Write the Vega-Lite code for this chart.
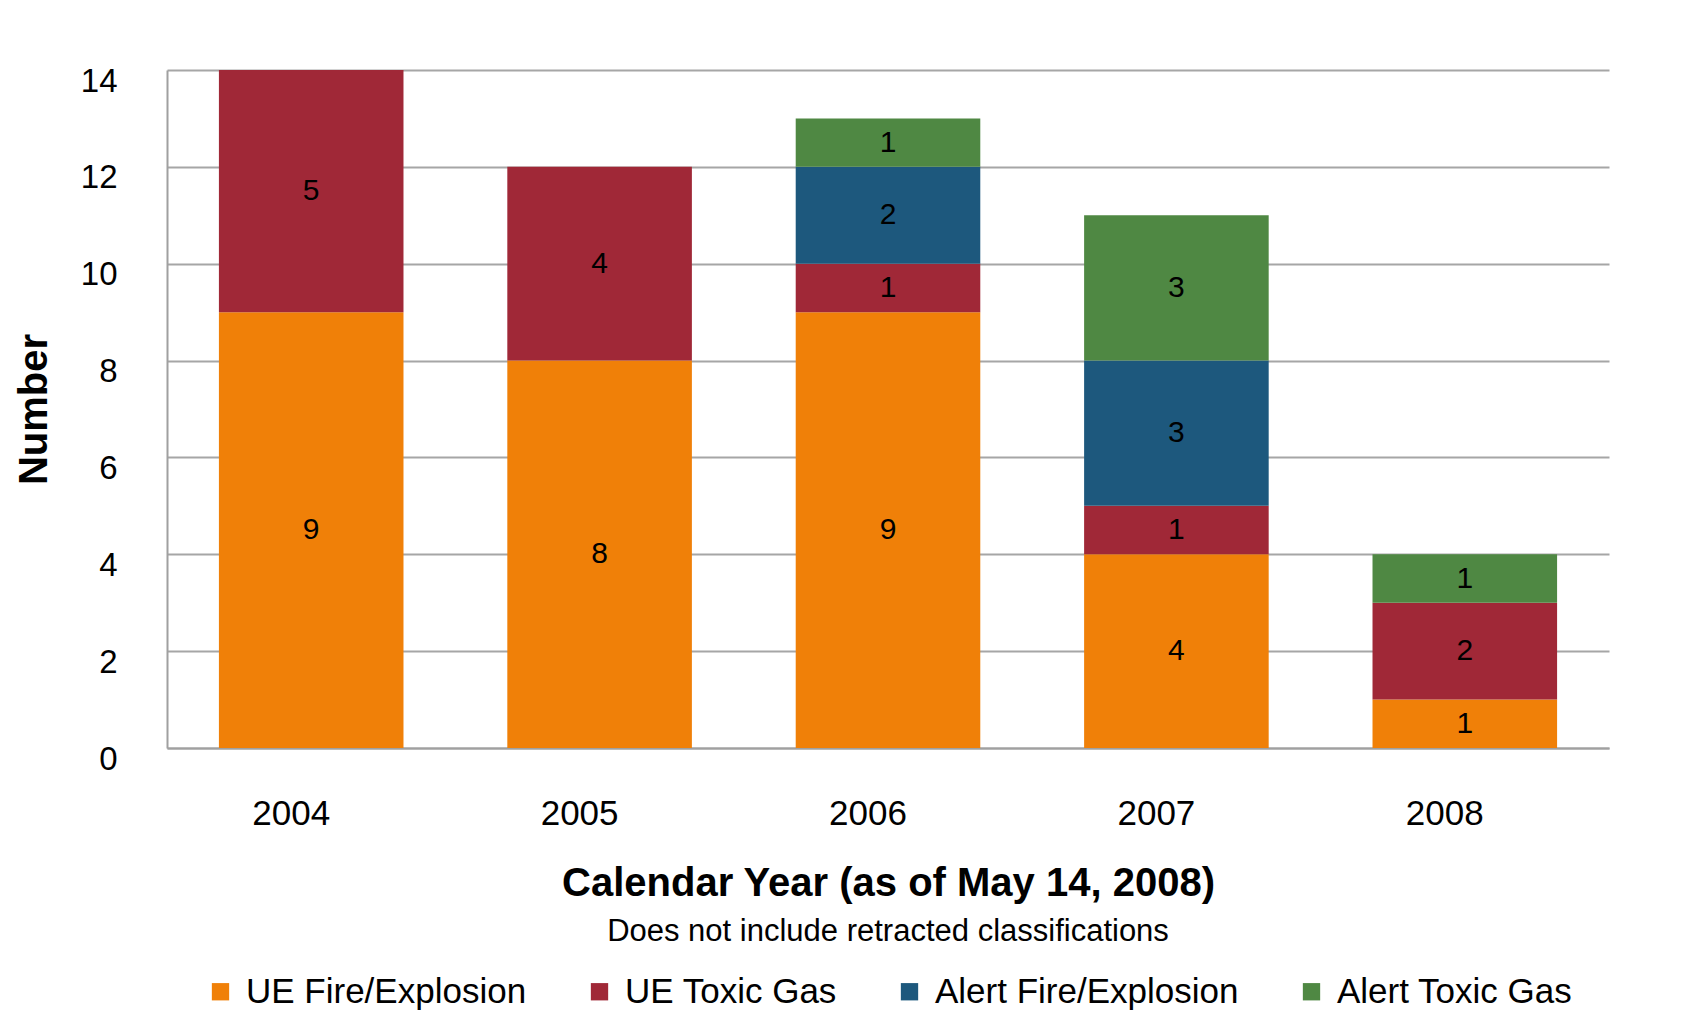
{
  "$schema": "https://vega.github.io/schema/vega-lite/v6.json",
  "width": 1442,
  "height": 678,
  "autosize": "none",
  "padding": {"left": 167, "top": 70, "right": 75, "bottom": 269},
  "background": "white",
  "data": {
    "values": [
      {"year": "2004", "type": "UE Fire/Explosion", "order": 1, "count": 9},
      {"year": "2004", "type": "UE Toxic Gas", "order": 2, "count": 5},
      {"year": "2005", "type": "UE Fire/Explosion", "order": 1, "count": 8},
      {"year": "2005", "type": "UE Toxic Gas", "order": 2, "count": 4},
      {"year": "2006", "type": "UE Fire/Explosion", "order": 1, "count": 9},
      {"year": "2006", "type": "UE Toxic Gas", "order": 2, "count": 1},
      {"year": "2006", "type": "Alert Fire/Explosion", "order": 3, "count": 2},
      {"year": "2006", "type": "Alert Toxic Gas", "order": 4, "count": 1},
      {"year": "2007", "type": "UE Fire/Explosion", "order": 1, "count": 4},
      {"year": "2007", "type": "UE Toxic Gas", "order": 2, "count": 1},
      {"year": "2007", "type": "Alert Fire/Explosion", "order": 3, "count": 3},
      {"year": "2007", "type": "Alert Toxic Gas", "order": 4, "count": 3},
      {"year": "2008", "type": "UE Fire/Explosion", "order": 1, "count": 1},
      {"year": "2008", "type": "UE Toxic Gas", "order": 2, "count": 2},
      {"year": "2008", "type": "Alert Toxic Gas", "order": 4, "count": 1}
    ]
  },
  "encoding": {
    "x": {
      "field": "year", "type": "nominal",
      "scale": {"paddingInner": 0.36, "paddingOuter": 0.18},
      "axis": {
        "title": "Calendar Year (as of May 14, 2008)",
        "labelAngle": 0, "labelFontSize": 35, "labelPadding": 48, "labelOffset": -20,
        "labelColor": "#000000", "labelFont": "Liberation Sans",
        "titleFont": "Liberation Sans", "titleFontSize": 40, "titleFontWeight": "bold",
        "titleColor": "#000000", "titlePadding": 32,
        "ticks": false, "domain": true, "domainColor": "#a0a0a0", "domainWidth": 2
      }
    },
    "y": {
      "field": "count", "type": "quantitative", "aggregate": "sum", "stack": "zero",
      "scale": {"domain": [0, 14], "nice": false},
      "axis": {
        "title": "Number", "values": [0, 2, 4, 6, 8, 10, 12, 14],
        "labelFontSize": 33, "labelPadding": 50, "labelOffset": 11, "labelColor": "#000000",
        "labelFont": "Liberation Sans",
        "titleFont": "Liberation Sans", "titleFontSize": 40, "titleFontWeight": "bold",
        "titleColor": "#000000", "titlePadding": 26,
        "ticks": false, "domain": true, "domainColor": "#a0a0a0", "domainWidth": 2,
        "grid": true, "gridColor": "#a6a6a6", "gridWidth": 2
      }
    },
    "order": {"field": "order", "type": "quantitative"}
  },
  "layer": [
    {
      "mark": {"type": "bar"},
      "encoding": {
        "color": {
          "field": "type", "type": "nominal",
          "scale": {
            "domain": ["UE Fire/Explosion", "UE Toxic Gas", "Alert Fire/Explosion", "Alert Toxic Gas"],
            "range": ["#F08008", "#A02837", "#1D587D", "#4F8843"]
          },
          "legend": {
            "orient": "bottom", "direction": "horizontal",
            "title": "Does not include retracted classifications",
            "titleOrient": "top", "titleAnchor": "middle", "titleLimit": 1200,
            "titleFont": "Liberation Sans", "titleFontSize": 31, "titleFontWeight": "normal",
            "titleColor": "#000000", "titlePadding": 26,
            "labelFont": "Liberation Sans", "labelFontSize": 35, "labelColor": "#000000",
            "symbolType": "square", "symbolSize": 300, "symbolStrokeWidth": 0,
            "symbolOpacity": 1, "labelOffset": 8, "columnPadding": 55, "offset": 14,
            "labelLimit": 500
          }
        }
      }
    },
    {
      "mark": {"type": "text", "font": "Liberation Sans", "fontSize": 30, "color": "#000000", "baseline": "middle"},
      "encoding": {
        "y": {"field": "count", "type": "quantitative", "aggregate": "sum", "stack": "zero", "bandPosition": 0.5},
        "text": {"field": "count", "type": "quantitative", "aggregate": "sum"}
      }
    }
  ],
  "config": {
    "view": {"stroke": null},
    "legend": {"layout": {"bottom": {"anchor": "middle"}}}
  }
}
